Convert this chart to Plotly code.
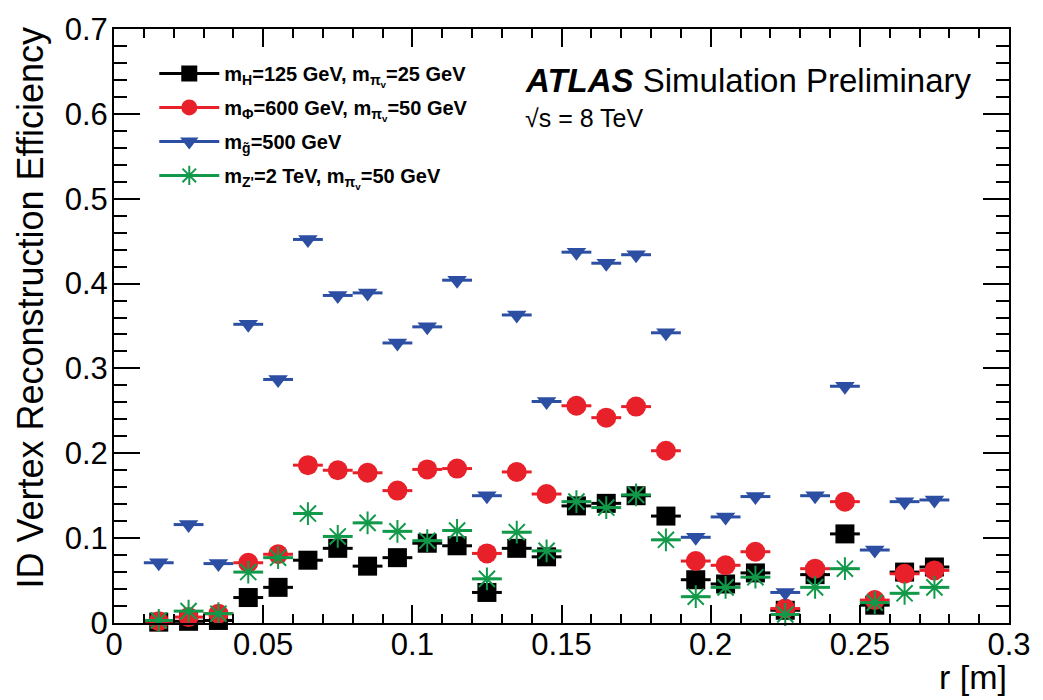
import plotly.graph_objects as go

# ---------------- data ----------------
r_centers = [0.015, 0.025, 0.035, 0.045, 0.055, 0.065, 0.075, 0.085, 0.095,
             0.105, 0.115, 0.125, 0.135, 0.145, 0.155, 0.165, 0.175, 0.185,
             0.195, 0.205, 0.215, 0.225, 0.235, 0.245, 0.255, 0.265, 0.275]
bin_half_width = 0.005

eff_mH125 = [0.001, 0.002, 0.003, 0.030, 0.042, 0.074, 0.088, 0.067, 0.077,
             0.094, 0.091, 0.036, 0.088, 0.078, 0.138, 0.141, 0.150, 0.126,
             0.051, 0.046, 0.059, 0.015, 0.057, 0.105, 0.021, 0.060, 0.066]
eff_mPhi600 = [0.002, 0.007, 0.011, 0.071, 0.081, 0.186, 0.180, 0.177, 0.156,
               0.181, 0.182, 0.082, 0.178, 0.152, 0.256, 0.242, 0.255, 0.203,
               0.073, 0.068, 0.084, 0.017, 0.064, 0.143, 0.027, 0.058, 0.062]
eff_mgluino500 = [0.071, 0.116, 0.070, 0.352, 0.287, 0.452, 0.386, 0.389, 0.330,
                  0.349, 0.404, 0.150, 0.363, 0.261, 0.437, 0.424, 0.434, 0.342,
                  0.101, 0.125, 0.149, 0.036, 0.150, 0.279, 0.086, 0.143, 0.145]
eff_mZp2TeV = [0.003, 0.014, 0.011, 0.060, 0.077, 0.129, 0.102, 0.118, 0.108,
               0.097, 0.109, 0.052, 0.107, 0.085, 0.143, 0.136, 0.151, 0.098,
               0.031, 0.042, 0.054, 0.010, 0.042, 0.064, 0.024, 0.035, 0.042]

series_names = [
    "<b>m<sub>H</sub>=125 GeV, m<sub>π<sub>v</sub></sub>=25 GeV</b>",
    "<b>m<sub>Φ</sub>=600 GeV, m<sub>π<sub>v</sub></sub>=50 GeV</b>",
    "<b>m<sub>g̃</sub>=500 GeV</b>",
    "<b>m<sub>Z'</sub>=2 TeV, m<sub>π<sub>v</sub></sub>=50 GeV</b>",
]
series_values = [eff_mH125, eff_mPhi600, eff_mgluino500, eff_mZp2TeV]
series_colors = ["#000000", "#e8202a", "#2c4fa3", "#12994a"]
series_symbols = ["square", "circle", "triangle-down", "asterisk"]
series_sizes = [19, 20, 17, 19]

x_ticks = [0, 0.05, 0.1, 0.15, 0.2, 0.25, 0.3]
x_ticklabels = ["0", "0.05", "0.1", "0.15", "0.2", "0.25", "0.3"]
y_ticks = [0, 0.1, 0.2, 0.3, 0.4, 0.5, 0.6, 0.7]
y_ticklabels = ["0", "0.1", "0.2", "0.3", "0.4", "0.5", "0.6", "0.7"]

FONT = "Liberation Sans, Arial, Helvetica, sans-serif"

fig = go.Figure()

# data points with horizontal bin-width error bars
for name, vals, col, sym, sz in zip(series_names, series_values, series_colors,
                                    series_symbols, series_sizes):
    is_open = sym == "asterisk"
    fig.add_trace(go.Scatter(
        x=r_centers, y=vals, mode="markers", name=name, showlegend=False,
        marker=dict(symbol=sym, size=sz, color=col,
                    line=dict(color=col, width=2 if is_open else 0)),
        error_x=dict(type="constant", value=bin_half_width, width=0,
                     thickness=3, color=col),
        cliponaxis=False,
    ))

# legend entries (line + marker, as in the ROOT legend)
for i, (name, col, sym, sz) in enumerate(zip(series_names, series_colors,
                                              series_symbols, series_sizes)):
    is_open = sym == "asterisk"
    fig.add_trace(go.Scatter(
        x=[None], y=[None], mode="lines+markers", name=name,
        legendgroup=f"g{i}",
        line=dict(color=col, width=3),
        marker=dict(symbol=sym, size=sz, color=col,
                    line=dict(color=col, width=2 if is_open else 0)),
    ))

axis_common = dict(
    showline=True, linecolor="black", linewidth=2, mirror="allticks",
    ticks="inside", tickcolor="black", tickwidth=1.5,
    showgrid=False, zeroline=False,
    tickfont=dict(family=FONT, size=31, color="black"),
)

fig.update_xaxes(range=[0, 0.3], tickvals=x_ticks, ticktext=x_ticklabels,
                 ticklen=18, ticklabelstandoff=-7,
                 minor=dict(ticks="inside", dtick=0.01, ticklen=9,
                            tickcolor="black", tickwidth=1.5, showgrid=False),
                 **axis_common)
fig.update_yaxes(range=[0, 0.7], tickvals=y_ticks, ticktext=y_ticklabels,
                 ticklen=26, ticklabelstandoff=-2,
                 minor=dict(ticks="inside", dtick=0.02, ticklen=13,
                            tickcolor="black", tickwidth=1.5, showgrid=False),
                 **axis_common)

fig.update_layout(
    width=1043, height=700,
    margin=dict(l=114, r=24, t=24, b=77),
    paper_bgcolor="white", plot_bgcolor="white",
    font=dict(family=FONT, color="black"),
    showlegend=True,
    legend=dict(x=0.045, y=0.958, xanchor="left", yanchor="top",
                bgcolor="rgba(0,0,0,0)", borderwidth=0,
                itemwidth=60, tracegroupgap=5,
                font=dict(family=FONT, size=20, color="black")),
    annotations=[
        dict(text="<b><i>ATLAS</i></b> Simulation Preliminary",
             xref="paper", yref="paper", x=(528 - 114) / 905, y=(623 - 76) / 599,
             xanchor="left", yanchor="middle", showarrow=False,
             font=dict(family=FONT, size=33, color="black")),
        dict(text="√s = 8 TeV",
             xref="paper", yref="paper", x=(528 - 114) / 905, y=(623 - 114) / 599,
             xanchor="left", yanchor="middle", showarrow=False,
             font=dict(family=FONT, size=25, color="black")),
        dict(text="ID Vertex Reconstruction Efficiency",
             xref="paper", yref="paper", x=(30 - 114) / 905, y=(623 - 305) / 599,
             xanchor="center", yanchor="middle", textangle=-90, showarrow=False,
             font=dict(family=FONT, size=36, color="black")),
        dict(text="r [m]",
             xref="paper", yref="paper", x=1.0, y=(623 - 699) / 599,
             xanchor="right", yanchor="bottom", showarrow=False,
             font=dict(family=FONT, size=34, color="black")),
    ],
)

fig.write_html("out.html")
